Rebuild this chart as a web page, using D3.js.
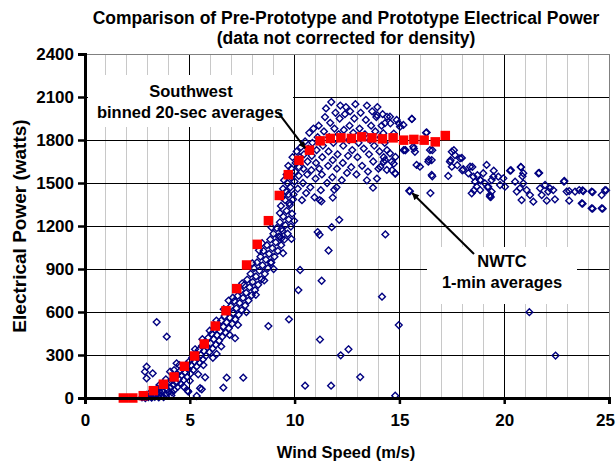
<!DOCTYPE html>
<html><head><meta charset="utf-8">
<script src="https://cdn.jsdelivr.net/npm/d3@7"></script>
<style>
body{margin:0;background:#fff}
svg{display:block}
text{font-family:"Liberation Sans",Arial,sans-serif;font-weight:bold;fill:#000}
</style>
</head><body>
<svg id="c" width="616" height="464"></svg>
<script>
const titleLines = ["Comparison of Pre-Prototype and Prototype Electrical Power", "(data not corrected for density)"];
const xTitle = "Wind Speed (m/s)";
const yTitle = "Electrical Power (watts)";
const xTicks = [0, 5, 10, 15, 20, 25];
const yTicks = [0, 300, 600, 900, 1200, 1500, 1800, 2100, 2400];
const swLabel = ["Southwest", "binned 20-sec averages"];
const nwtcLabel = ["NWTC", "1-min averages"];

// Southwest binned 20-sec averages
const swSpeed = [1.83, 2.28, 2.78, 3.26, 3.74, 4.25, 4.74, 5.23, 5.69, 6.22, 6.73, 7.24, 7.71, 8.22, 8.75, 9.27, 9.70, 10.21, 10.71, 11.22, 11.70, 12.21, 12.71, 13.20, 13.69, 14.19, 14.70, 15.20, 15.69, 16.18, 16.71, 17.19];
const swPower = [0, 0, 16, 51, 96, 147, 221, 293, 377, 502, 609, 763, 928, 1072, 1237, 1413, 1558, 1658, 1729, 1794, 1811, 1815, 1811, 1822, 1815, 1808, 1815, 1799, 1804, 1799, 1787, 1831];

// NWTC 1-min averages [wind speed, power]
const nwtcBand = [
[2.72,4],[2.81,12],[2.88,0],[2.93,22],[3.02,6],[3.07,31],[3.13,14],[3.18,2],[3.24,42],[3.29,24],[3.33,8],[3.41,52],
[3.44,29],[3.52,4],[3.47,66],[3.58,38],[3.63,17],[3.66,74],[3.72,48],[3.75,6],[3.79,88],[3.84,27],[3.91,61],[3.94,98],
[3.99,40],[4.04,112],[4.08,73],[4.12,18],[4.17,128],[4.21,92],[4.26,55],[4.31,146],[4.36,108],[4.42,78],[4.39,168],
[4.47,132],[4.53,188],[4.58,97],[4.61,158],[4.66,208],[4.71,125],[4.76,178],[4.83,232],[4.88,146],[4.93,200],[4.98,256],
[5.03,170],[5.07,228],[5.12,282],[5.17,196],[5.22,254],[5.28,310],[5.33,220],[5.38,276],[5.44,336],[5.47,246],[5.52,300],
[5.58,362],[5.62,268],[5.68,328],[5.73,392],[5.78,296],[5.83,354],[5.88,420],[5.93,320],[5.99,382],[6.04,448],[6.09,346],
[6.14,410],[6.19,478],[6.24,372],[6.3,438],[6.35,508],[6.4,400],[6.45,466],[6.5,540],[6.55,428],[6.6,498],[6.66,572],
[6.71,456],[6.76,528],[6.81,606],[6.86,486],[6.91,560],[6.96,640],[7.02,518],[7.07,592],[7.12,676],[7.17,548],[7.22,626],
[7.28,712],[7.33,580],[7.38,662],[7.43,750],[7.48,612],[7.54,698],[7.59,788],[7.64,646],[7.69,734],[7.74,826],[7.8,680],
[7.85,772],[7.9,866],[7.95,716],[8.0,810],[8.06,906],[8.11,752],[8.16,848],[8.21,946],[8.26,790],[8.32,888],[8.37,986],
[8.42,828],[8.47,926],[8.52,1026],[8.58,866],[8.63,966],[8.68,1066],[8.73,906],[8.78,1006],[8.84,1106],[8.89,946],
[8.94,1046],[8.99,1146],[9.04,986],[9.1,1086],[9.15,1186],[9.2,1026],[9.25,1126],[9.3,1226],[9.36,1066],[9.41,1166],
[9.46,1266],[9.51,1106],[9.56,1206],[9.62,1306],[9.67,1146],[9.72,1246],[9.77,1346],[9.82,1196],[9.88,1286],[9.93,1386],
[9.98,1236],
[3.55,90],[3.86,130],[4.15,40],[4.5,230],[4.7,80],[5.0,120],[5.25,340],[5.4,165],[5.65,230],[5.95,470],[6.1,280],
[6.27,540],[6.5,360],[6.62,620],[6.9,440],[7.05,700],[7.3,510],[7.5,800],[7.7,600],[7.98,940],[8.15,720],[8.45,1080],
[8.55,820],[8.9,1190],[9.0,900],[9.3,1290],[9.45,1010],[9.7,1420],[9.85,1110],[4.25,195],[5.6,410],[6.85,680],[8.3,1030]
];
const nwtcUpper = [
[9.35,1340],[9.4,1400],[9.45,1460],[9.5,1520],[9.55,1380],[9.6,1440],[9.62,1560],[9.65,1500],[9.7,1620],[9.75,1360],
[9.8,1470],[9.82,1540],[9.85,1600],[9.9,1680],[9.95,1420],[10.0,1510],[10.02,1580],[10.05,1640],[10.1,1720],[10.15,1460],
[10.2,1550],[10.22,1610],[10.25,1680],[10.3,1750],
[10.35,1380],[10.4,1500],[10.42,1600],[10.45,1700],[10.5,1790],[10.55,1430],[10.6,1560],[10.62,1650],[10.65,1740],[10.7,1850],
[10.75,1470],[10.8,1590],[10.82,1690],[10.85,1780],[10.9,1880],[10.95,1400],[11.0,1530],[11.02,1640],[11.05,1730],[11.1,1820],
[11.15,1900],[11.18,1600],
[11.25,1450],[11.3,1560],[11.32,1680],[11.35,1760],[11.4,1860],[11.45,1960],[11.5,2020],[11.55,1500],[11.6,1620],[11.62,1720],
[11.65,1820],[11.7,1920],[11.75,2065],[11.8,1540],[11.82,1660],[11.85,1780],[11.9,1880],[11.95,1990],[12.0,1470],[12.02,1600],
[12.05,1700],[12.1,1840],[12.15,1950],[12.18,2040],
[12.25,1520],[12.3,1640],[12.32,1760],[12.35,1870],[12.4,1980],[12.45,2030],[12.5,1570],[12.55,1690],[12.6,1800],[12.62,1900],
[12.65,2000],[12.7,1610],[12.75,1730],[12.8,1850],[12.85,1950],[12.9,2050],[12.95,1560],[13.0,1680],[13.05,1780],[13.1,1880],[13.15,1990],
[13.22,1620],[13.3,1740],[13.35,1840],[13.4,1940],[13.45,2040],[13.5,1580],[13.55,1700],[13.6,1800],[13.65,1900],[13.7,2000],
[13.75,1650],[13.8,1760],[13.85,1860],[13.9,1960],[13.95,2030],[14.0,1600],[14.05,1720],[14.1,1820],[14.15,1900],[14.2,1980],
[14.25,1680],[14.3,1780],
[13.93,1974],[14.41,1962],[14.57,1916],[14.97,1916],[14.73,1845],[15.2,1729],[14.81,1682],[14.73,1635],[14.65,1589],[14.81,1566],
[14.09,1612],[14.25,1647],[14.41,1729],
[14.55,1963],[14.31,1917],[14.87,1940],[15.03,1893],[15.59,1947],[15.19,1905],[14.23,1847],[16.3,1853],[15.27,1730],[15.66,1753],
[15.74,1718],[16.46,1730],[14.55,1707],[14.31,1660],[14.63,1649],[14.4,1591],[14.79,1568],[15.82,1626],[15.98,1614],[16.38,1649],
[16.54,1660],[16.54,1556],[17.5,1718],[17.65,1695],[17.89,1672],[17.41,1649],[17.5,1614],[17.33,1549],[18.05,1596],[18.37,1614],
[18.29,1568],[18.53,1544],[18.61,1509],[18.45,1428],[18.85,1521],[19.0,1568],[19.16,1626],[19.24,1474],[19.32,1405],[18.85,1451],
[18.69,1474],[19.08,1498],[19.48,1544],[19.4,1440],[15.47,1446],[16.48,1430],
[15.6,1947],[16.27,1850],[17.6,1729],[17.98,1675],[15.29,1729],[15.69,1741],[16.57,1729],[16.4,1663],[16.57,1547],
[17.44,1659],[17.76,1624],[18.0,1589],[18.48,1612],[18.72,1554],[18.88,1519],[18.56,1449],[19.2,1472],[19.36,1402],
[19.5,1586],[19.4,1521],[19.32,1416],[19.72,1544],[19.96,1533],[19.8,1486],[20.04,1474],[20.28,1586],[20.52,1509],[20.8,1610],
[20.91,1568],[20.6,1440],[20.91,1498],[20.75,1463],[21.07,1451],[20.83,1381],[21.23,1416],[21.39,1370],[21.63,1568],[21.71,1463],
[21.79,1416],[21.95,1486],[22.03,1377],[22.18,1463],[22.1,1440],[22.34,1451],[22.42,1386],[22.85,1509],[22.98,1440],[23.1,1377],
[23.38,1440],[23.58,1451],[23.7,1358],[23.77,1444],[24.17,1440],[24.17,1323],[24.65,1416],[24.81,1451],[24.65,1323],
[20.32,1589],[20.79,1612],[20.87,1547],[21.67,1570],[22.87,1514],[23.1,1444],[23.74,1449],[24.22,1437],[24.86,1449],[24.22,1321],
[24.7,1321],[23.74,1356]
];
const nwtcOutliers = [
[3.42,530],[3.90,428],[2.94,218],[2.86,184],[3.23,172],[2.94,137],[4.37,242],[4.06,184],[4.90,51],[5.33,14],[5.73,144],
[5.49,68],[6.76,142],[6.60,72],[7.16,417],[6.28,307],[7.55,142],[5.57,61],[4.93,44],[8.75,502],[9.73,549],[8.86,944],
[9.37,1114],[10.18,753],[10.26,893],[11.29,818],[14.17,707],[14.97,509],[11.21,408],[12.2,298],[12.57,340],[13.13,146],
[10.5,86],[11.74,86],[14.8,16],[21.2,599],[22.45,296],[11.62,1029],[11.1,1158],[11.19,1139],[11.77,1192],[12.13,1243],
[14.33,1141],[11.28,1372],[11.82,1398],[11.89,1453],[15.5,1442],[13.45,1519],[13.74,1467],[13.93,1531],[9.30,1122],
[9.38,1180],[11.2,1381]
];

const svg = d3.select("#c");
const W = 616, H = 464;
const FONT = '"Liberation Sans",Arial,sans-serif';
svg.append("rect").attr("width", W).attr("height", H).attr("fill", "#fff");

const x = d3.scaleLinear().domain([0, 25]).range([85, 609]);
const y = d3.scaleLinear().domain([0, 2400]).range([398, 54]);

// Title
svg.append("text").attr("x", 346).attr("y", 24).attr("text-anchor", "middle")
  .style("font-size", "17.5px").text(titleLines[0]);
svg.append("text").attr("x", 346).attr("y", 44).attr("text-anchor", "middle")
  .style("font-size", "17.5px").text(titleLines[1]);

// Gridlines
const g = svg.append("g");
d3.range(1, 26).forEach(v => {
  const major = v % 5 === 0;
  g.append("line").attr("x1", x(v)).attr("x2", x(v)).attr("y1", y(0)).attr("y2", y(2400))
    .attr("stroke", v === 25 ? "#808080" : (major ? "#000" : "#c8c8c8")).attr("stroke-width", 1)
    .attr("shape-rendering", "crispEdges");
});
yTicks.filter(v => v > 0).forEach(v => {
  g.append("line").attr("x1", x(0)).attr("x2", x(25)).attr("y1", y(v)).attr("y2", y(v))
    .attr("stroke", v === 2400 ? "#808080" : "#000").attr("stroke-width", 1)
    .attr("shape-rendering", "crispEdges");
});

// Annotation boxes (white) over gridlines
svg.append("rect").attr("x", 88).attr("y", 75).attr("width", 205).attr("height", 52).attr("fill", "#fff");
svg.append("rect").attr("x", 427).attr("y", 247).attr("width", 150).attr("height", 57).attr("fill", "#fff");

// NWTC diamonds
const allN = nwtcBand.concat(nwtcUpper, nwtcOutliers);
const r = 3.4;
svg.append("g").selectAll("path").data(allN).join("path")
  .attr("d", d => {
    const cx = x(d[0]), cy = y(d[1]);
    return `M${cx},${cy - r}L${cx + r},${cy}L${cx},${cy + r}L${cx - r},${cy}Z`;
  })
  .attr("fill", "none").attr("stroke", "#000080").attr("stroke-width", 1.4);

// Southwest squares
const s = 9.5;
svg.append("g").selectAll("rect").data(swSpeed.map((v, i) => [v, swPower[i]])).join("rect")
  .attr("x", d => x(d[0]) - s / 2).attr("y", d => y(d[1]) - s / 2)
  .attr("width", s).attr("height", s).attr("fill", "#ff0000");

// Axes
const yAxis = d3.axisLeft(y).tickValues(yTicks).tickSize(7).tickPadding(4).tickFormat(d3.format("d"));
const ya = svg.append("g").attr("transform", `translate(${x(0)},0)`).call(yAxis);
ya.select(".domain").attr("stroke", "#000").attr("stroke-width", 3);
ya.selectAll(".tick line").attr("stroke", "#000").attr("stroke-width", 2.5);
ya.selectAll(".tick text").style("font-size", "17px").style("font-family", FONT)
  .style("font-weight", "bold").attr("fill", "#000");

const xAxis = d3.axisBottom(x).tickValues(xTicks).tickSize(6).tickPadding(10).tickFormat(d3.format("d"));
const xa = svg.append("g").attr("transform", `translate(0,${y(0)})`).call(xAxis);
xa.select(".domain").attr("stroke", "#000").attr("stroke-width", 3);
xa.selectAll(".tick line").attr("stroke", "#000").attr("stroke-width", 2.5);
xa.selectAll(".tick text").style("font-size", "17px").style("font-family", FONT)
  .style("font-weight", "bold").attr("fill", "#000")
  .attr("dx", d => d === 25 ? -4 : 0);

// Axis titles
svg.append("text").attr("x", 346).attr("y", 458).attr("text-anchor", "middle")
  .style("font-size", "16.5px").text(xTitle);
svg.append("text").attr("transform", "translate(26,226) rotate(-90)").attr("text-anchor", "middle")
  .style("font-size", "19px").text(yTitle);

// Annotation texts
svg.append("text").attr("x", 191).attr("y", 97).attr("text-anchor", "middle").style("font-size", "16.5px").text(swLabel[0]);
svg.append("text").attr("x", 190).attr("y", 118).attr("text-anchor", "middle").style("font-size", "16.5px").text(swLabel[1]);
svg.append("text").attr("x", 502).attr("y", 267).attr("text-anchor", "middle").style("font-size", "16.5px").text(nwtcLabel[0]);
svg.append("text").attr("x", 502).attr("y", 288).attr("text-anchor", "middle").style("font-size", "16.5px").text(nwtcLabel[1]);

// Arrows
const defs = svg.append("defs");
defs.append("marker").attr("id", "ah").attr("viewBox", "0 0 10 10").attr("refX", 9).attr("refY", 5)
  .attr("markerWidth", 9).attr("markerHeight", 7).attr("markerUnits", "userSpaceOnUse").attr("orient", "auto")
  .append("path").attr("d", "M0,0L10,5L0,10Z").attr("fill", "#000");
function arrow(x1, y1, x2, y2) {
  svg.append("line").attr("x1", x(x1)).attr("y1", y(y1)).attr("x2", x(x2)).attr("y2", y(y2))
    .attr("stroke", "#000").attr("stroke-width", 2).attr("marker-end", "url(#ah)");
}
arrow(9.2, 1995, 10.5, 1744);
arrow(18.56, 1005, 15.62, 1428);
</script>
</body></html>
